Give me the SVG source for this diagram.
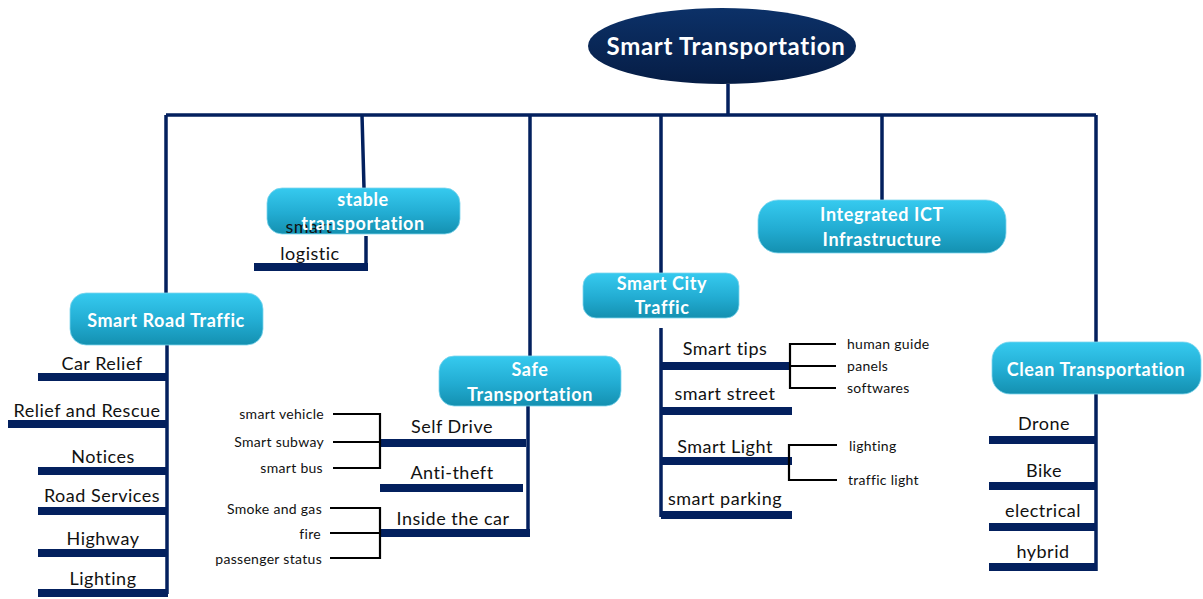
<svg xmlns="http://www.w3.org/2000/svg" width="1203" height="599" viewBox="0 0 1203 599">
<defs>
<linearGradient id="gBox" x1="0" y1="0" x2="0" y2="1">
<stop offset="0" stop-color="#36caef"/>
<stop offset="0.55" stop-color="#22acd2"/>
<stop offset="1" stop-color="#1490b0"/>
</linearGradient>
<linearGradient id="gRoot" x1="0" y1="0" x2="0" y2="1">
<stop offset="0" stop-color="#0c3168"/>
<stop offset="1" stop-color="#061d45"/>
</linearGradient>
</defs>
<style>
text{font-variant-ligatures:none}
.box{fill:url(#gBox);stroke:#7fd6ee;stroke-width:0.8}
.bt{font-family:Lato,"Liberation Sans",sans-serif;font-weight:bold;font-size:18px;letter-spacing:0.6px;fill:#ffffff;text-anchor:middle}
.lt{font-family:Lato,"Liberation Sans",sans-serif;font-size:18px;letter-spacing:0.5px;fill:#111111;text-anchor:middle}
.st{font-family:Lato,"Liberation Sans",sans-serif;font-size:14px;letter-spacing:0.3px;fill:#111111}
.ln{stroke:#03205e;stroke-width:3.5;fill:none}
.bar{fill:#03205e}
.br{stroke:#000000;stroke-width:2.2;fill:none}
</style>
<rect width="1203" height="599" fill="#ffffff"/>

<g id="connectors">
<path class="ln" d="M728 84 V115 M166 115 H1096 M166 115 V293 M362 115 L364 188 M530 115 V356 M661 115 V273 M882 115 V200 M1096 115 V342"/>
<path class="ln" d="M366 236 V267"/>
<rect class="bar" x="254" y="263" width="114" height="8"/>
<path class="ln" d="M167 345 V594"/>
<rect class="bar" x="38" y="373" width="130" height="8"/>
<rect class="bar" x="8" y="420" width="160" height="8"/>
<rect class="bar" x="38" y="467" width="130" height="8"/>
<rect class="bar" x="38" y="507" width="130" height="8"/>
<rect class="bar" x="38" y="549" width="130" height="8"/>
<rect class="bar" x="38" y="589" width="130" height="8"/>
<path class="ln" d="M528 406 V535"/>
<rect class="bar" x="380" y="439" width="146" height="8"/>
<rect class="bar" x="380" y="484" width="143" height="8"/>
<rect class="bar" x="380" y="529" width="150" height="8"/>
<path class="br" d="M333 414 H380 V468 H333 M333 442 H380"/>
<path class="br" d="M330 508 H380 V558 H330 M330 533 H380"/>
<path class="ln" d="M661 328 V517"/>
<rect class="bar" x="661" y="362" width="130" height="8"/>
<rect class="bar" x="661" y="407" width="131" height="8"/>
<rect class="bar" x="661" y="457" width="131" height="8"/>
<rect class="bar" x="661" y="511" width="131" height="8"/>
<path class="br" d="M836 344 H790 V388 H836 M790 366 H836"/>
<path class="br" d="M837 445 H789 V480 H837"/>
<path class="ln" d="M1096 394 V571"/>
<rect class="bar" x="989" y="436" width="108" height="8"/>
<rect class="bar" x="989" y="482" width="108" height="8"/>
<rect class="bar" x="989" y="523" width="108" height="8"/>
<rect class="bar" x="989" y="563" width="108" height="8"/>
</g>

<g id="root">
<ellipse cx="722" cy="46" rx="134" ry="38" fill="url(#gRoot)"/>
<text x="726" y="55" font-family="Lato,'Liberation Sans',sans-serif" font-weight="bold" font-size="24" letter-spacing="0.7" fill="#ffffff" text-anchor="middle">Smart Transportation</text>
</g>

<g id="stable">
<rect class="box" x="267" y="188" width="193" height="46" rx="15"/>
<text class="lt" x="309" y="233" font-size="17">smart</text>
<text class="bt" x="363" y="206">stable</text>
<text class="bt" x="363" y="230">transportation</text>
</g>
<g id="logistic"><text class="lt" x="310" y="260">logistic</text></g>

<g id="ict">
<rect class="box" x="758" y="200" width="248" height="53" rx="20"/>
<text class="bt" x="882" y="221">Integrated ICT</text>
<text class="bt" x="882" y="246">Infrastructure</text>
</g>

<g id="road">
<rect class="box" x="70" y="293" width="193" height="52" rx="16"/>
<text class="bt" x="166" y="327">Smart Road Traffic</text>
</g>
<g id="road-items">
<text class="lt" x="102" y="370">Car Relief</text>
<text class="lt" x="87" y="417">Relief and Rescue</text>
<text class="lt" x="103" y="463">Notices</text>
<text class="lt" x="102" y="502">Road Services</text>
<text class="lt" x="103" y="545">Highway</text>
<text class="lt" x="103" y="585">Lighting</text>
</g>

<g id="safe">
<rect class="box" x="439" y="356" width="182" height="50" rx="15"/>
<text class="bt" x="530" y="376">Safe</text>
<text class="bt" x="530" y="401">Transportation</text>
</g>
<g id="safe-items">
<text class="lt" x="452" y="433">Self Drive</text>
<text class="lt" x="452" y="479">Anti-theft</text>
<text class="lt" x="453" y="525">Inside the car</text>
<text class="st" x="324" y="419" text-anchor="end">smart vehicle</text>
<text class="st" x="324" y="447" text-anchor="end">Smart subway</text>
<text class="st" x="323" y="473" text-anchor="end">smart bus</text>
<text class="st" x="322" y="514" text-anchor="end">Smoke and gas</text>
<text class="st" x="321" y="539" text-anchor="end">fire</text>
<text class="st" x="322" y="564" text-anchor="end">passenger status</text>
</g>

<g id="city">
<rect class="box" x="583" y="273" width="156" height="45" rx="13"/>
<text class="bt" x="662" y="290">Smart City</text>
<text class="bt" x="662" y="314">Traffic</text>
</g>
<g id="city-items">
<text class="lt" x="725" y="355">Smart tips</text>
<text class="lt" x="725" y="400">smart street</text>
<text class="lt" x="725" y="453">Smart Light</text>
<text class="lt" x="725" y="505">smart parking</text>
<text class="st" x="847" y="349">human guide</text>
<text class="st" x="847" y="371">panels</text>
<text class="st" x="847" y="393">softwares</text>
<text class="st" x="849" y="451">lighting</text>
<text class="st" x="848" y="485">traffic light</text>
</g>

<g id="clean">
<rect class="box" x="992" y="342" width="209" height="52" rx="18"/>
<text class="bt" x="1096" y="376">Clean Transportation</text>
</g>
<g id="clean-items">
<text class="lt" x="1044" y="430">Drone</text>
<text class="lt" x="1044" y="477">Bike</text>
<text class="lt" x="1043" y="517">electrical</text>
<text class="lt" x="1043" y="558">hybrid</text>
</g>
</svg>
